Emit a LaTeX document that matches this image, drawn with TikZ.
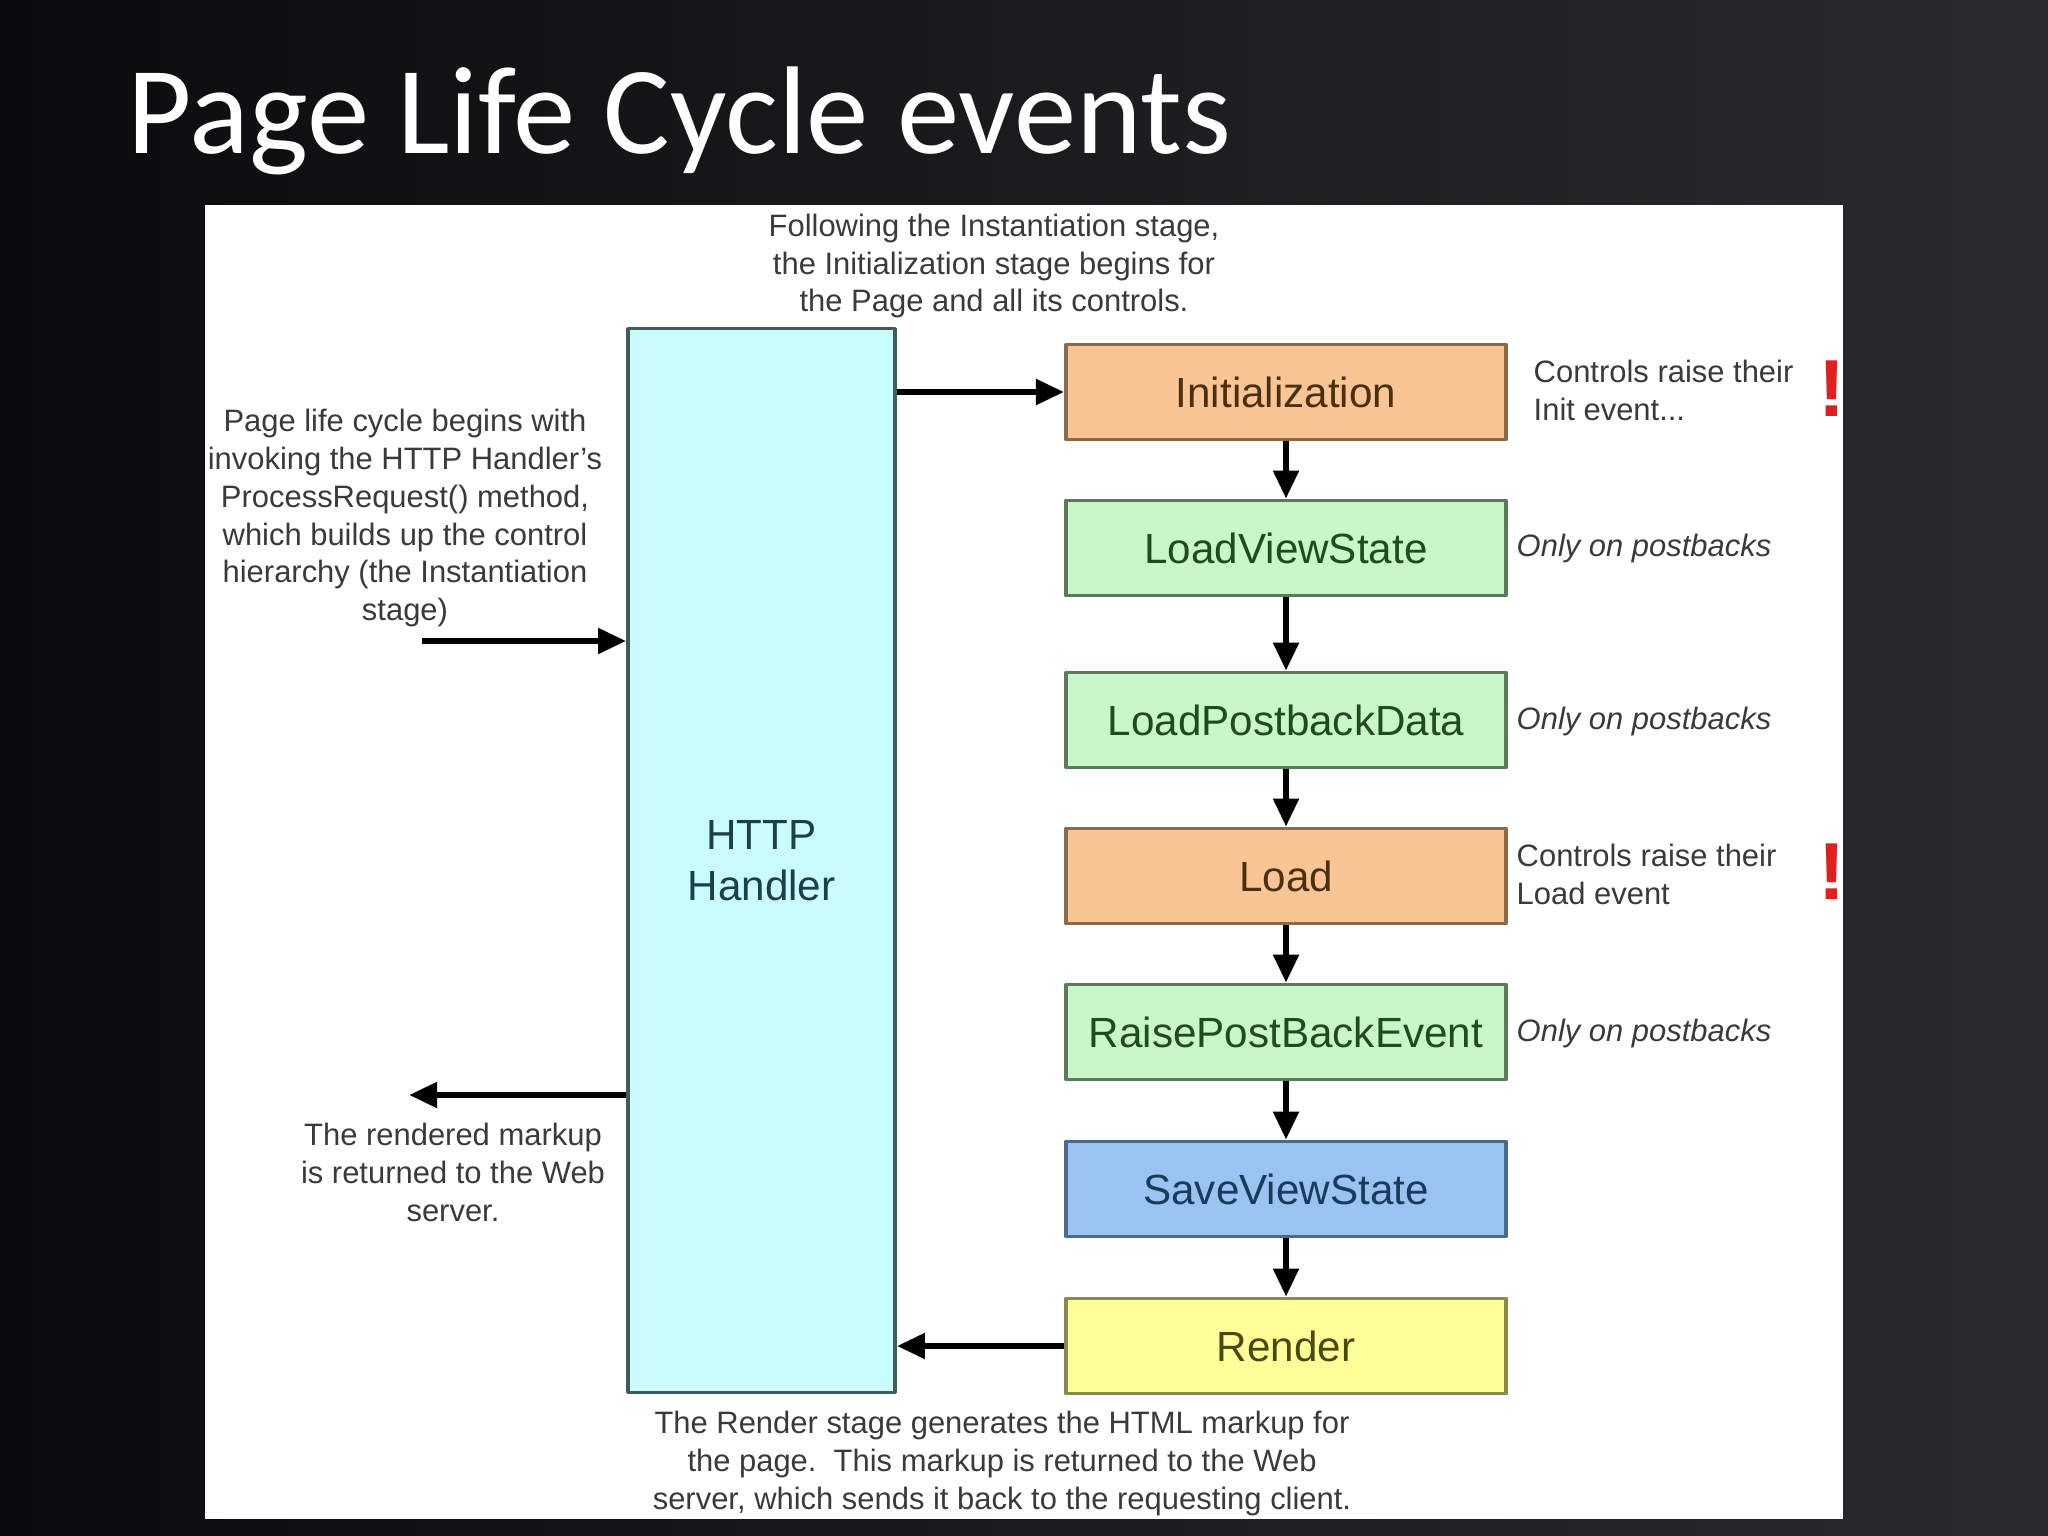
\documentclass[tikz,border=0pt]{standalone}
\usepackage{fontspec}
\setmainfont{Liberation Sans}
\newfontfamily\titlefont{Carlito}
\usetikzlibrary{arrows.meta,positioning}
\definecolor{bgdark}{HTML}{0B0B0D}
\definecolor{bglight}{HTML}{2A2B2E}
\definecolor{notegray}{HTML}{3A3A3A}
\definecolor{httpfill}{HTML}{C9FCFC}
\definecolor{httpline}{HTML}{3E5C5C}
\definecolor{httptext}{HTML}{1E3E4A}
\definecolor{orfill}{HTML}{F9C594}
\definecolor{orline}{HTML}{8A6A4A}
\definecolor{ortext}{HTML}{4A3010}
\definecolor{grfill}{HTML}{C9F7C9}
\definecolor{grline}{HTML}{5A7A5A}
\definecolor{grtext}{HTML}{1D4D1D}
\definecolor{blfill}{HTML}{99C4F2}
\definecolor{blline}{HTML}{4A6A8A}
\definecolor{bltext}{HTML}{1A3A5A}
\definecolor{yefill}{HTML}{FFFF99}
\definecolor{yeline}{HTML}{8A8A4A}
\definecolor{yetext}{HTML}{4A4A10}
\definecolor{bang}{HTML}{E02020}
\begin{document}
\begin{tikzpicture}[x=0.01cm, y=-0.01cm, >={Triangle[length=8pt,width=7pt]}, line join=round,
  stage/.style={draw=#1line, fill=#1fill, text=#1text, line width=1pt, minimum width=4.4cm, minimum height=0.95cm, font=\fontsize{12}{14}\selectfont},
  note/.style={text=notegray, align=center, inner sep=0pt, font=\fontsize{8.8}{10.8}\selectfont},
  sidenote/.style={note, align=left, anchor=west},
  flow/.style={->, line width=1.8pt}]
  \def\sx{1286} % x of the stage column
  % slide
  \shade[left color=bgdark, right color=bglight] (0,0) rectangle (2048,1536);
  \fill[white] (205,205) rectangle (1843,1519);
  \node[anchor=base west, inner sep=0pt, text=white, font=\titlefont\fontsize{35.5}{40}\selectfont] (title) at (127,153) {Page Life Cycle events};
  % handler
  \node[draw=httpline, fill=httpfill, text=httptext, line width=1pt, minimum width=2.67cm, minimum height=10.63cm, align=center, font=\fontsize{12}{14.5}\selectfont] (http) at (761.5,860.5) {HTTP\\Handler};
  % stages
  \node[stage=or] (init) at (\sx,392) {Initialization};
  \node[stage=gr] (lvs) at (\sx,548) {LoadViewState};
  \node[stage=gr] (lpd) at (\sx,720) {LoadPostbackData};
  \node[stage=or] (load) at (\sx,876) {Load};
  \node[stage=gr] (rpbe) at (\sx,1032) {RaisePostBackEvent};
  \node[stage=bl] (svs) at (\sx,1189) {SaveViewState};
  \node[stage=ye] (render) at (\sx,1346) {Render};
  \foreach \a/\b in {init/lvs, lvs/lpd, lpd/load, load/rpbe, rpbe/svs, svs/render}
    \draw[flow] (\a) -- (\b);
  % notes
  \node[note] (toptext) at (994,266) {Following the Instantiation stage,\\the Initialization stage begins for\\the Page and all its controls.};
  \node[note] (lefttext) at (405,518) {Page life cycle begins with\\invoking the HTTP Handler's\\ProcessRequest() method,\\which builds up the control\\hierarchy (the Instantiation\\stage)};
  \node[note] (outtext) at (453,1172) {The rendered markup\\is returned to the Web\\server.};
  \node[note] (bottext) at (1002,1463) {The Render stage generates the HTML markup for\\the page.\ \ This markup is returned to the Web\\server, which sends it back to the requesting client.};
  \node[sidenote] (initnote) at (1533,390) {Controls raise their\\Init event...};
  \node[sidenote] (loadnote) at (1516,874) {Controls raise their\\Load event};
  \foreach \n/\y in {lvsnote/548, lpdnote/721, rpbenote/1033}
    \node[sidenote, font=\fontsize{8.8}{10.8}\selectfont\itshape] (\n) at (1516,\y) {Only on postbacks};
  \node[text=bang, font=\bfseries\fontsize{23}{23}\selectfont, inner sep=0pt] (bang1) at (1832,389) {!};
  \node[text=bang, font=\bfseries\fontsize{23}{23}\selectfont, inner sep=0pt] (bang2) at (1832,872) {!};
  % in and out of the handler
  \coordinate (req) at (422,641);
  \coordinate (resp) at (409,1095);
  \draw[flow] (req) -- (http.west |- req);
  \draw[flow] (http.west |- resp) -- (resp);
  \draw[flow] (http.east |- init) -- (init.west);
  \draw[flow] (render.west) -- (http.east |- render);
\end{tikzpicture}
\end{document}
